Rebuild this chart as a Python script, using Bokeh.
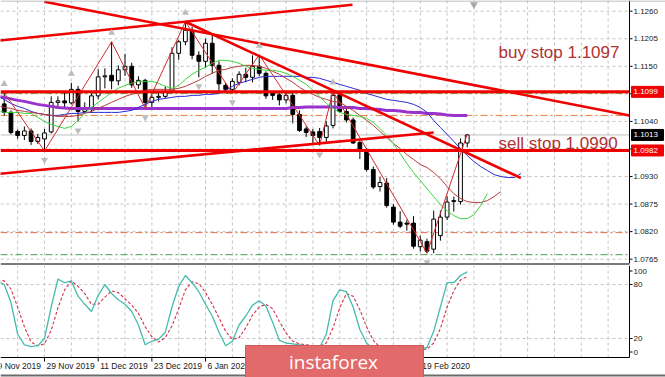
from bokeh.plotting import figure
from bokeh.layouts import column
from bokeh.models import ColumnDataSource, Label, Range1d
from bokeh.embed import file_html
from bokeh.resources import INLINE
from bokeh.core.properties import value

# ---------------- data (EURUSD, daily) ----------------
FIRST_BAR = -6          # bar index 0 = 29 Nov 2019
opens = [1.1075, 1.1058, 1.1020, 1.1012, 1.1021, 1.1000, 1.1005,
         1.1019, 1.1078, 1.1081, 1.1077, 1.1104, 1.1060, 1.1064, 1.1091,
         1.1129, 1.1132, 1.1121, 1.1143, 1.1150, 1.1113, 1.1122, 1.1078,
         1.1088, 1.1090, 1.1100, 1.1176, 1.1199, 1.1222, 1.1172, 1.1160,
         1.1196, 1.1152, 1.1112, 1.1104, 1.1118, 1.1134, 1.1128, 1.1150,
         1.1136, 1.1096, 1.1093, 1.1083, 1.1092, 1.1054, 1.1025, 1.1019,
         1.1020, 1.1008, 1.1032, 1.1093, 1.1060, 1.1043, 1.0998, 1.0979,
         1.0944, 1.0910, 1.0917, 1.0869, 1.0839, 1.0837, 1.0837, 1.0790,
         1.0800, 1.0785, 1.0812, 1.0849, 1.0880, 1.0880, 1.0997]
highs = [1.1097, 1.1062, 1.1024, 1.1030, 1.1026, 1.1015, 1.1025,
         1.1090, 1.1090, 1.1098, 1.1117, 1.1111, 1.1078, 1.1096, 1.1144,
         1.1146, 1.1199, 1.1152, 1.1175, 1.1157, 1.1130, 1.1125, 1.1094,
         1.1097, 1.1110, 1.1188, 1.1203, 1.1239, 1.1229, 1.1180, 1.1205,
         1.1214, 1.1160, 1.1117, 1.1126, 1.1140, 1.1147, 1.1172, 1.1173,
         1.1140, 1.1100, 1.1100, 1.1100, 1.1100, 1.1062, 1.1030, 1.1025,
         1.1027, 1.1040, 1.1100, 1.1096, 1.1065, 1.1048, 1.1002, 1.0987,
         1.0950, 1.0929, 1.0927, 1.0875, 1.0861, 1.0844, 1.0851, 1.0812,
         1.0806, 1.0862, 1.0862, 1.0891, 1.0890, 1.1006, 1.1015]
lows = [1.1052, 1.1014, 1.1005, 1.1003, 1.0993, 1.0995, 1.0981,
        1.1016, 1.1066, 1.1067, 1.1074, 1.1040, 1.1055, 1.1057, 1.1084,
        1.1106, 1.1104, 1.1112, 1.1131, 1.1107, 1.1105, 1.1066, 1.1067,
        1.1080, 1.1086, 1.1096, 1.1163, 1.1192, 1.1164, 1.1128, 1.1148,
        1.1135, 1.1100, 1.1099, 1.1096, 1.1112, 1.1118, 1.1118, 1.1130,
        1.1085, 1.1083, 1.1072, 1.1076, 1.1036, 1.1019, 1.1009, 1.0997,
        1.0992, 1.0995, 1.1026, 1.1057, 1.1038, 1.0995, 1.0965, 1.0940,
        1.0905, 1.0900, 1.0868, 1.0834, 1.0827, 1.0822, 1.0786, 1.0780,
        1.0777, 1.0777, 1.0802, 1.0843, 1.0860, 1.0874, 1.0988]
closes = [1.1058, 1.1018, 1.1012, 1.1021, 1.1000, 1.1008, 1.1017,
          1.1078, 1.1081, 1.1077, 1.1104, 1.1060, 1.1064, 1.1091, 1.1129,
          1.1131, 1.1121, 1.1143, 1.1150, 1.1113, 1.1122, 1.1078, 1.1088,
          1.1090, 1.1100, 1.1176, 1.1199, 1.1222, 1.1172, 1.1160, 1.1196,
          1.1152, 1.1115, 1.1104, 1.1120, 1.1134, 1.1128, 1.1150, 1.1136,
          1.1091, 1.1092, 1.1083, 1.1092, 1.1054, 1.1022, 1.1018, 1.1012,
          1.1008, 1.1031, 1.1092, 1.1060, 1.1043, 1.0997, 1.0981, 1.0944,
          1.0909, 1.0918, 1.0872, 1.0839, 1.0831, 1.0835, 1.0791, 1.0803,
          1.0781, 1.0845, 1.0849, 1.0879, 1.0882, 1.0997, 1.1013]

date_bars = [-8, 0, 8, 16, 24, 32, 40, 48, 56]
date_labels = ["19 Nov 2019", "29 Nov 2019", "11 Dec 2019", "23 Dec 2019", "6 Jan 2020",
               "16 Jan 2020", "28 Jan 2020", "7 Feb 2020", "19 Feb 2020"]
price_ticks = [1.1260, 1.1205, 1.1150, 1.1095, 1.1040, 1.0985, 1.0930, 1.0875, 1.0820, 1.0765]

# Alligator lines and a slow MA, first value at bar -7 (lines run past the last bar: shifted)
IND_FIRST_BAR = -7
jaw = [1.1090, 1.1084, 1.1076, 1.1070, 1.1066, 1.1060, 1.1056, 1.1054,
       1.1052, 1.1052, 1.1054, 1.1056, 1.1056, 1.1058, 1.1058, 1.1058,
       1.1058, 1.1058, 1.1058, 1.1060, 1.1062, 1.1068, 1.1074, 1.1080,
       1.1084, 1.1086, 1.1088, 1.1090, 1.1090, 1.1092, 1.1092, 1.1094,
       1.1094, 1.1096, 1.1102, 1.1110, 1.1116, 1.1120, 1.1124, 1.1128,
       1.1130, 1.1130, 1.1130, 1.1130, 1.1130, 1.1130, 1.1128, 1.1128,
       1.1126, 1.1122, 1.1118, 1.1114, 1.1110, 1.1106, 1.1102, 1.1096,
       1.1092, 1.1088, 1.1084, 1.1082, 1.1080, 1.1078, 1.1074, 1.1068,
       1.1058, 1.1042, 1.1028, 1.1014, 1.1000, 1.0986, 1.0972, 1.0960,
       1.0950, 1.0942, 1.0934, 1.0930, 1.0928, 1.0928, 1.0936]
teeth = [1.1072, 1.1068, 1.1066, 1.1062, 1.1060, 1.1058, 1.1056, 1.1054,
         1.1052, 1.1050, 1.1050, 1.1050, 1.1052, 1.1056, 1.1060, 1.1066,
         1.1072, 1.1078, 1.1084, 1.1090, 1.1094, 1.1098, 1.1102, 1.1104,
         1.1104, 1.1104, 1.1104, 1.1106, 1.1110, 1.1116, 1.1122, 1.1130,
         1.1136, 1.1142, 1.1144, 1.1148, 1.1150, 1.1152, 1.1152, 1.1150,
         1.1146, 1.1140, 1.1134, 1.1126, 1.1118, 1.1108, 1.1100, 1.1094,
         1.1088, 1.1084, 1.1080, 1.1078, 1.1070, 1.1062, 1.1052, 1.1042,
         1.1032, 1.1020, 1.1008, 1.0996, 1.0986, 1.0974, 1.0964, 1.0954,
         1.0948, 1.0938, 1.0926, 1.0910, 1.0896, 1.0886, 1.0880, 1.0878,
         1.0878, 1.0882, 1.0890, 1.0900]
lips = [1.1062, 1.1058, 1.1058, 1.1058, 1.1056, 1.1056, 1.1048, 1.1040,
        1.1034, 1.1030, 1.1026, 1.1030, 1.1042, 1.1056, 1.1068, 1.1078,
        1.1088, 1.1098, 1.1106, 1.1112, 1.1116, 1.1120, 1.1120, 1.1120,
        1.1116, 1.1110, 1.1106, 1.1112, 1.1124, 1.1134, 1.1142, 1.1148,
        1.1156, 1.1162, 1.1162, 1.1160, 1.1156, 1.1150, 1.1146, 1.1144,
        1.1142, 1.1142, 1.1140, 1.1136, 1.1130, 1.1122, 1.1114, 1.1102,
        1.1090, 1.1076, 1.1066, 1.1058, 1.1054, 1.1052, 1.1050, 1.1046,
        1.1038, 1.1026, 1.1012, 1.0996, 1.0976, 1.0956, 1.0938, 1.0922,
        1.0906, 1.0890, 1.0874, 1.0862, 1.0852, 1.0846, 1.0846, 1.0854,
        1.0872, 1.0896]
slow_ma = [1.1090, 1.1088, 1.1085, 1.1082, 1.1080, 1.1077, 1.1074, 1.1072,
           1.1070, 1.1068, 1.1067, 1.1066, 1.1066, 1.1066, 1.1066, 1.1066,
           1.1066, 1.1066, 1.1066, 1.1066, 1.1066, 1.1066, 1.1066, 1.1066,
           1.1066, 1.1066, 1.1066, 1.1066, 1.1066, 1.1066, 1.1066, 1.1066,
           1.1066, 1.1066, 1.1066, 1.1066, 1.1066, 1.1066, 1.1066, 1.1066,
           1.1066, 1.1066, 1.1066, 1.1066, 1.1068, 1.1068, 1.1069, 1.1069,
           1.1069, 1.1069, 1.1069, 1.1068, 1.1068, 1.1068, 1.1066, 1.1066,
           1.1065, 1.1064, 1.1062, 1.1062, 1.1061, 1.1059, 1.1058, 1.1058,
           1.1056, 1.1056, 1.1055, 1.1053, 1.1052, 1.1052, 1.1052]
stoch_k = [84, 80, 60, 25, 13, 11, 12, 20,
           55, 86, 82, 84, 67, 58, 50, 68,
           80, 70, 63, 58, 50, 35, 13, 17,
           19, 27, 55, 78, 90, 82, 72, 58,
           45, 27, 12, 17, 35, 45, 57, 62,
           56, 38, 18, 15, 14, 13, 12, 11,
           10, 25, 62, 74, 72, 55, 30, 15,
           8, 6, 5, 4, 8, 9, 6, 8,
           10, 28, 55, 82, 82, 90, 94]
stoch_d = [85, 84, 75, 55, 33, 16, 12, 14,
           29, 54, 74, 84, 78, 70, 58, 58,
           66, 73, 71, 64, 57, 48, 33, 22,
           16, 21, 34, 53, 74, 83, 81, 71,
           58, 43, 28, 19, 21, 32, 46, 55,
           58, 53, 39, 26, 17, 14, 13, 12,
           11, 15, 32, 54, 70, 67, 52, 33,
           18, 10, 6, 5, 6, 7, 8, 8,
           8, 15, 31, 55, 73, 85, 89]
osc_levels = [100, 80, 20, 0]
osc_grid_levels = [80, 20]

zigzag_bars = [-6, 0, 10, 15, 21, 28, 32, 41, 43, 57, 63]
zigzag_prices = [1.1097, 1.0981, 1.1199, 1.1066, 1.1239, 1.1096, 1.1173, 1.0992, 1.1100, 1.0777, 1.1015]
fractal_up_bars = [-6, 4, 10, 21, 32, 43]
fractal_down_bars = [0, 5, 15, 23, 28, 41, 57]

# drawn trend lines (bar, price anchors)
trend_a_bars, trend_a_prices = [-7, 45.9], [1.1201, 1.1273]
trend_b_bars, trend_b_prices = [0, 87.18], [1.1279, 1.1052]
trend_c_bars, trend_c_prices = [21, 71], [1.1239, 1.0927]
trend_f_bars, trend_f_prices = [-7, 58], [1.0935, 1.1018]
buy_level, sell_level, bid_price = 1.1099, 1.0982, 1.1013
dashdot_levels = [1.1096, 1.1052, 1.0818, 1.0774]
dashdot_colors = ["#7d8c2c", "#e8803c", "#e06a4a", "#4c9c4c"]
buy_text, sell_text = "buy stop 1.1097", "sell stop 1.0990"
chart_shift_bar = 64

# ---------------- geometry ----------------
PX_PER_BAR = 6.71
BAR0_PX = 44.0
FRAME_W = 629           # chart area width; the value scales are drawn right of it
FULL_W = 665
MAIN_H = 265
OSC_H = 112
PX_PER_PRICE = 5010.0
PRICE_TOP = 1.1260 + 10.7 / PX_PER_PRICE
OSC_PX = 0.9
OSC_TOP = 100 + 1 / OSC_PX
FONT = "Liberation Sans"
GRID = "#c4c4c4"
LABEL_COLOR = "#202020"


def bx(px):
    return (px - BAR0_PX) / PX_PER_BAR


def py(px):
    return PRICE_TOP - px / PX_PER_PRICE


def oy(px):
    return OSC_TOP - (px - MAIN_H) / OSC_PX


X0, X1, XF = bx(0), bx(FRAME_W), bx(FULL_W)
grid_bars = [b for b in range(-4, 100, 4) if b < X1]
ng = len(grid_bars)


def make_fig(height, y_start, y_end):
    f = figure(width=FULL_W, height=height, x_range=Range1d(X0, XF), y_range=Range1d(y_start, y_end),
               x_axis_location=None, y_axis_location=None, toolbar_location=None,
               output_backend="svg", min_border_left=0, min_border_right=0,
               min_border_top=0, min_border_bottom=0, background_fill_color="white",
               border_fill_color="white", outline_line_color=None)
    f.xgrid.visible = False
    f.ygrid.visible = False
    return f


# ---------------- main price panel ----------------
p = make_fig(MAIN_H, py(MAIN_H), py(0))

nt = len(price_ticks)
p.segment(x0=grid_bars, y0=[py(0)] * ng, x1=grid_bars, y1=[py(MAIN_H)] * ng,
          line_color=GRID, line_dash="3 3", line_width=1)
p.segment(x0=[X0] * nt, y0=price_ticks, x1=[X1] * nt, y1=price_ticks,
          line_color=GRID, line_dash="3 3", line_width=1)

n = len(dashdot_levels)
p.segment(x0=[X0] * n, y0=dashdot_levels, x1=[X1] * n, y1=dashdot_levels,
          line_color=dashdot_colors, line_width=1, line_dash="7 3 2 3")
p.segment(x0=[X0], y0=[bid_price], x1=[X1], y1=[bid_price], line_color="#c0c0c0", line_width=1)

bars = list(range(FIRST_BAR, FIRST_BAR + len(opens)))
src = ColumnDataSource(dict(
    x=bars, high=highs, low=lows,
    top=[max(o, c) for o, c in zip(opens, closes)],
    bot=[min(o, c) for o, c in zip(opens, closes)],
    fill=["white" if c >= o else "black" for o, c in zip(opens, closes)]))
p.segment(x0="x", y0="low", x1="x", y1="high", source=src, line_color="black", line_width=1)
p.vbar(x="x", top="top", bottom="bot", width=0.56, fill_color="fill", line_color="black",
       line_width=1, source=src)


def ind_x(arr):
    return list(range(IND_FIRST_BAR, IND_FIRST_BAR + len(arr)))


p.line(ind_x(slow_ma), slow_ma, line_color="#9a32cd", line_width=3)
p.line(ind_x(jaw), jaw, line_color="#2a2ad8", line_width=1)
p.line(ind_x(teeth), teeth, line_color="#b83a3a", line_width=1)
p.line(ind_x(lips), lips, line_color="#3ad43a", line_width=1)
p.line(zigzag_bars, zigzag_prices, line_color="#d42a2a", line_width=1)

RED = "#f00000"
p.segment(x0=[X0, X0], y0=[buy_level, sell_level], x1=[X1, X1], y1=[buy_level, sell_level],
          line_color=RED, line_width=3)
for tb, tp in [(trend_a_bars, trend_a_prices), (trend_b_bars, trend_b_prices),
               (trend_c_bars, trend_c_prices), (trend_f_bars, trend_f_prices)]:
    p.line(tb, tp, line_color=RED, line_width=2.6)

up_y = [highs[b - FIRST_BAR] + 9 / PX_PER_PRICE for b in fractal_up_bars]
dn_y = [lows[b - FIRST_BAR] - 9 / PX_PER_PRICE for b in fractal_down_bars]
p.scatter(fractal_up_bars, up_y, marker="triangle", size=7, fill_color="#bcbcbc", line_color=None)
p.scatter(fractal_down_bars, dn_y, marker="inverted_triangle", size=7, fill_color="#bcbcbc",
          line_color=None)
p.scatter([chart_shift_bar], [py(4)], marker="inverted_triangle", size=8, fill_color="#a8a8a8",
          line_color=None)

for txt, ypx in [(buy_text, 52), (sell_text, 142.5)]:
    p.add_layout(Label(x=bx(498), y=py(ypx), text=txt, text_font=FONT, text_font_size="17px",
                       text_color="#b03232", text_baseline="alphabetic", text_align="left"))

# price scale: axis line, ticks, labels, and the boxed level / bid prices
p.segment(x0=[X1], y0=[py(0)], x1=[X1], y1=[py(263)], line_color="black", line_width=1)
p.segment(x0=[X1] * nt, y0=price_ticks, x1=[bx(FRAME_W + 3)] * nt, y1=price_ticks,
          line_color="black", line_width=1)
p.text(x=[bx(FRAME_W + 4)] * nt, y=price_ticks, text=["%.4f" % t for t in price_ticks],
       text_font=value(FONT), text_font_size="8px", text_color=LABEL_COLOR,
       text_baseline="middle", text_align="left")
box_prices = [buy_level, bid_price, sell_level]
box_colors = ["#f00000", "#000000", "#f00000"]
half = 5.5 / PX_PER_PRICE
p.quad(left=[bx(FRAME_W + 2)] * 3, right=[bx(FULL_W - 2)] * 3,
       top=[v + half for v in box_prices], bottom=[v - half for v in box_prices],
       fill_color=box_colors, line_color=box_colors)
p.text(x=[bx(FRAME_W + 4)] * 3, y=box_prices, text=["%.4f" % v for v in box_prices],
       text_font=value(FONT), text_font_size="8px", text_color="white",
       text_baseline="middle", text_align="left")

p.segment(x0=[X0], y0=[py(0.5)], x1=[XF], y1=[py(0.5)], line_color="#a8a8a8", line_width=1)
p.segment(x0=[X0], y0=[py(263.5)], x1=[X1], y1=[py(263.5)], line_color="#7a7a7a", line_width=2)

# ---------------- stochastic panel (frame also holds the date row) ----------------
q = make_fig(OSC_H, OSC_TOP - OSC_H / OSC_PX, OSC_TOP)
q.segment(x0=grid_bars, y0=[oy(357)] * ng, x1=grid_bars, y1=[OSC_TOP] * ng,
          line_color=GRID, line_dash="3 3", line_width=1)
q.segment(x0=[X0] * 2, y0=osc_grid_levels, x1=[X1] * 2, y1=osc_grid_levels,
          line_color=GRID, line_dash="3 3", line_width=1)
q.line(ind_x(stoch_d), stoch_d, line_color="#d0304a", line_width=1.1, line_dash="3 2")
q.line(ind_x(stoch_k), stoch_k, line_color="#45bcae", line_width=1.3)
q.segment(x0=[X0], y0=[oy(357)], x1=[X1], y1=[oy(357)], line_color="black", line_width=1)
q.segment(x0=[X1], y0=[oy(357)], x1=[X1], y1=[OSC_TOP], line_color="black", line_width=1)
# oscillator scale labels (end labels sit just inside the panel, as in the terminal)
osc_label_pos = [min(max(v, 5), 95) for v in osc_levels]
q.segment(x0=[X1] * 4, y0=osc_label_pos, x1=[bx(FRAME_W + 3)] * 4, y1=osc_label_pos,
          line_color="black", line_width=1)
q.text(x=[bx(FRAME_W + 4)] * 4, y=osc_label_pos, text=[str(v) for v in osc_levels],
       text_font=value(FONT), text_font_size="8px", text_color=LABEL_COLOR,
       text_baseline="middle", text_align="left")
# date row
q.segment(x0=date_bars, y0=[oy(357)] * len(date_bars), x1=date_bars, y1=[oy(361)] * len(date_bars),
          line_color="black", line_width=1)
q.text(x=date_bars, y=[oy(365)] * len(date_bars), text=date_labels, x_offset=2,
       text_font=value(FONT), text_font_size="8.5px", text_color=LABEL_COLOR,
       text_baseline="middle", text_align="left")
q.segment(x0=[X0], y0=[oy(375)], x1=[XF], y1=[oy(375)], line_color="#6a6a6a", line_width=2)

# watermark banner
q.quad(left=[bx(245)], right=[bx(423)], top=[oy(345)], bottom=[oy(377)], fill_color="#e26a6a",
       line_color="#d05a5a", line_width=1)
q.text(x=[bx(333)], y=[oy(361)], text=["instaforex"], text_font=value("Open Sans"),
       text_font_size="19px", text_color="white", text_baseline="middle", text_align="center")

layout = column(p, q, spacing=0)
open("out.html", "w").write(file_html(layout, INLINE))
